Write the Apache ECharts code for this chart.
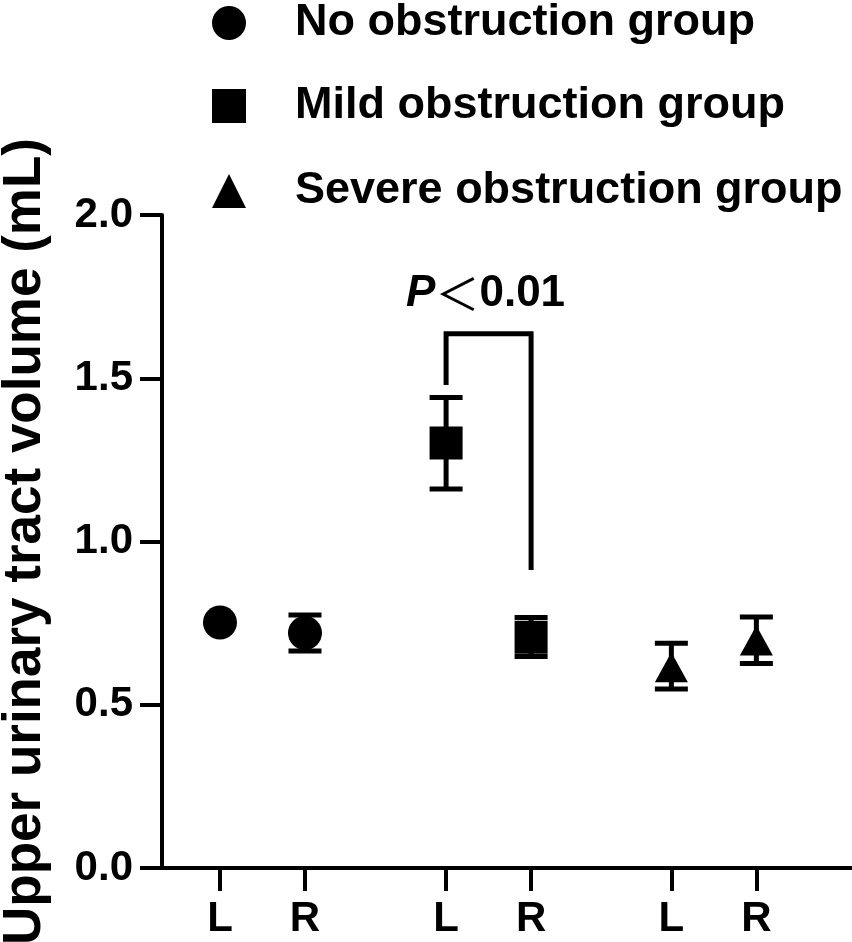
<!DOCTYPE html>
<html>
<head>
<meta charset="utf-8">
<script src="https://cdn.jsdelivr.net/npm/echarts@6/dist/echarts.min.js"></script>
<style>
html,body{margin:0;padding:0;background:#fff;}
#chart{width:852px;height:942px;}
</style>
</head>
<body>
<div id="chart"></div>
<script>
// ---- data ----
const tickLabels = ['L', 'R', 'L', 'R', 'L', 'R'];
const xPositions = [1, 2, 3.66, 4.66, 6.31, 7.31];
const groupNames = ['No obstruction group', 'Mild obstruction group', 'Severe obstruction group'];

const noMean = [0.752, 0.720];
const noLow = [0.752, 0.665];
const noHigh = [0.752, 0.775];

const mildMean = [1.302, 0.707];
const mildLow = [1.161, 0.648];
const mildHigh = [1.441, 0.767];

const severeMean = [0.615, 0.697];
const severeLow = [0.548, 0.626];
const severeHigh = [0.688, 0.769];

const yTicks = [0, 0.5, 1.0, 1.5, 2.0];
const yTitle = 'Upper urinary tract volume (mL)';

// significance bracket between Mild L and Mild R
const sigPrefix = 'P';
const sigSymbol = '＜';
const sigValue = '0.01';
const bracketLeftY = 1.479;
const bracketTopY = 1.636;
const bracketRightY = 0.913;
const sigLabelY = 1.758;

// ---- build ----
const FONT = 'Liberation Sans, Arial, sans-serif';
const groups = [
  { name: groupNames[0], symbol: 'circle', size: 34, idx: [0, 1], mean: noMean, low: noLow, high: noHigh },
  { name: groupNames[1], symbol: 'rect', size: 33, idx: [2, 3], mean: mildMean, low: mildLow, high: mildHigh },
  { name: groupNames[2], symbol: 'triangle', size: [33, 30], idx: [4, 5], mean: severeMean, low: severeLow, high: severeHigh }
];

function errorRender(params, api) {
  const x = api.value(0), lo = api.value(1), hi = api.value(2);
  if (hi === lo) return null;
  const pt = api.coord([x, hi]);
  const pb = api.coord([x, lo]);
  const hw = 16.5;
  const st = { stroke: '#000', lineWidth: 5 };
  return {
    type: 'group',
    children: [
      { type: 'line', shape: { x1: pt[0], y1: pt[1], x2: pb[0], y2: pb[1] }, style: st },
      { type: 'line', shape: { x1: pt[0] - hw, y1: pt[1], x2: pt[0] + hw, y2: pt[1] }, style: st },
      { type: 'line', shape: { x1: pb[0] - hw, y1: pb[1], x2: pb[0] + hw, y2: pb[1] }, style: st }
    ]
  };
}

const series = [];
groups.forEach(g => {
  series.push({
    type: 'custom',
    renderItem: errorRender,
    encode: { x: 0, y: [1, 2] },
    data: g.idx.map((k, i) => [xPositions[k], g.low[i], g.high[i]]),
    z: 2,
    silent: true
  });
});
groups.forEach(g => {
  series.push({
    name: g.name,
    type: 'scatter',
    symbol: g.symbol,
    symbolSize: g.size,
    itemStyle: { color: '#000', opacity: 1 },
    data: g.idx.map((k, i) => [xPositions[k], g.mean[i]]),
    z: 3
  });
});

// bracket
series.push({
  type: 'custom',
  silent: true,
  z: 2,
  encode: { x: [0, 1], y: [2, 3, 4] },
  data: [[xPositions[2], xPositions[3], bracketLeftY, bracketTopY, bracketRightY]],
  renderItem: function (params, api) {
    const a = api.coord([api.value(0), api.value(2)]);
    const b = api.coord([api.value(0), api.value(3)]);
    const c = api.coord([api.value(1), api.value(3)]);
    const d = api.coord([api.value(1), api.value(4)]);
    return {
      type: 'polyline',
      shape: { points: [a, b, c, d] },
      style: { stroke: '#000', lineWidth: 5, fill: null, lineJoin: 'miter' }
    };
  }
});
// significance label
series.push({
  type: 'custom',
  silent: true,
  z: 4,
  encode: { x: 0, y: 1 },
  data: [[(xPositions[2] + xPositions[3]) / 2, sigLabelY]],
  renderItem: function (params, api) {
    const p = api.coord([api.value(0), api.value(1)]);
    return {
      type: 'text',
      x: p[0] - 3, y: p[1],
      style: {
        text: '{p|' + sigPrefix + '}{s|' + sigSymbol + '}{n|' + sigValue + '}',
        align: 'center',
        verticalAlign: 'middle',
        fill: '#000',
        rich: {
          p: { fontFamily: FONT, fontWeight: 'bold', fontStyle: 'italic', fontSize: 44, fill: '#000' },
          s: { fontFamily: 'Noto Sans CJK SC', fontWeight: 'normal', fontSize: 44, fill: '#000' },
          n: { fontFamily: FONT, fontWeight: 'bold', fontSize: 44, fill: '#000' }
        }
      }
    };
  }
});

const legendTops = [0, 83, 168];
const legends = groups.map((g, i) => ({
  data: [{ name: g.name, icon: g.symbol }],
  left: 212,
  top: legendTops[i],
  padding: 0,
  itemWidth: 34,
  itemHeight: 34,
  selectedMode: false,
  itemStyle: { color: '#000' },
  textStyle: { fontFamily: FONT, fontWeight: 'bold', fontSize: 45, color: '#000', lineHeight: 46, padding: [0, 0, 0, 44] }
}));

const chart = echarts.init(document.getElementById('chart'));
chart.setOption({
  animation: false,
  backgroundColor: '#fff',
  legend: legends,
  grid: { left: 162, right: 0, top: 215, bottom: 74, containLabel: false, outerBoundsMode: 'none' },
  xAxis: {
    type: 'value',
    min: 0.318,
    max: 8.435,
    splitLine: { show: false },
    axisLine: { show: true, lineStyle: { color: '#000', width: 4 } },
    axisTick: { show: true, length: 23, lineStyle: { color: '#000', width: 4 }, customValues: xPositions },
    axisLabel: {
      show: true, margin: 30, color: '#000', fontFamily: FONT, fontWeight: 'bold', fontSize: 42,
      customValues: xPositions,
      formatter: function (v) {
        let best = 0;
        for (let i = 0; i < xPositions.length; i++) if (Math.abs(xPositions[i] - v) < Math.abs(xPositions[best] - v)) best = i;
        return tickLabels[best];
      }
    }
  },
  yAxis: {
    type: 'value',
    min: yTicks[0],
    max: yTicks[yTicks.length - 1],
    interval: 0.5,
    name: yTitle,
    nameLocation: 'middle',
    nameGap: 110,
    nameTextStyle: { fontFamily: FONT, fontWeight: 'bold', fontSize: 53, color: '#000' },
    splitLine: { show: false },
    axisLine: { show: true, lineStyle: { color: '#000', width: 4 } },
    axisTick: { show: true, length: 22, lineStyle: { color: '#000', width: 4 } },
    axisLabel: {
      margin: 29, color: '#000', fontFamily: FONT, fontWeight: 'bold', fontSize: 42,
      formatter: v => v.toFixed(1)
    }
  },
  series: series
});
</script>
</body>
</html>
